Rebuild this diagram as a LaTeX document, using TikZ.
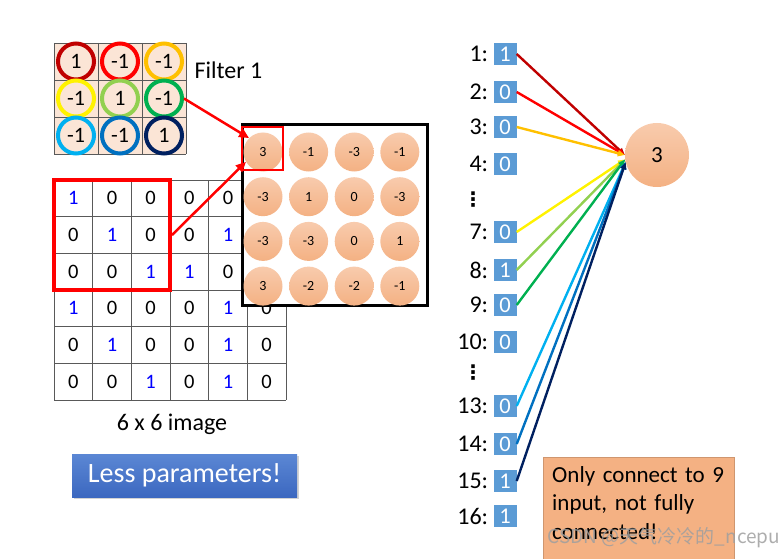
\documentclass[tikz,border=0pt]{standalone}
\usepackage{fontspec}
\setmainfont{Carlito}
\newfontfamily\cjk{Noto Sans CJK SC}
\newfontfamily\sym{DejaVu Sans}
\usetikzlibrary{arrows.meta,positioning,shadows}
\definecolor{peach}{HTML}{FBE5D6}
\definecolor{salmon}{HTML}{F4B183}
\definecolor{salmonlt}{HTML}{F8CBAD}
\definecolor{boxblue}{HTML}{5B9BD5}
\definecolor{darkred}{HTML}{C00000}
\definecolor{amber}{HTML}{FFC000}
\definecolor{lgreen}{HTML}{92D050}
\definecolor{mgreen}{HTML}{00B050}
\definecolor{lblue}{HTML}{00B0F0}
\definecolor{mblue}{HTML}{0070C0}
\definecolor{navy}{HTML}{002060}
\definecolor{pbluelt}{HTML}{5B87D4}
\definecolor{pbluedk}{HTML}{3C68C0}
\begin{document}
\begin{tikzpicture}[x=1pt,y=-1pt,
  ring/.style={circle, draw=#1, line width=4pt, fill=peach, minimum size=36pt, inner sep=0pt, font=\fontsize{22}{22}\selectfont},
  pix/.style={inner sep=0pt, font=\fontsize{20.5}{20.5}\selectfont},
  gridln/.style={gray!70!black, line width=0.9pt},
  fmap/.style={circle, top color=salmonlt, bottom color=salmon, minimum size=39pt, inner sep=0pt, font=\fontsize{14}{14}\selectfont},
  inbox/.style={fill=boxblue, text=white, minimum width=23pt, minimum height=22pt, inner sep=0pt, font=\fontsize{22.5}{22.5}\selectfont},
  lab/.style={left=5pt of #1, inner sep=0pt, font=\fontsize{24}{24}\selectfont},
  wire/.style={#1, line width=2.4pt, -{Triangle[length=7pt,width=6pt]}},
  hot/.style={red, line width=2.5pt, -{Triangle[length=10pt,width=9pt]}},
  vdot/.style={inner sep=0pt, font=\sym\bfseries\fontsize{20}{20}\selectfont}]
	\useasboundingbox (0,0) rectangle (779,559);
	\clip (0,0) rectangle (779,559);
	
	\fill[peach] (54,43) rectangle (186,154);
	\foreach \x in {54,98,142,186} \draw[gridln] (\x,43) -- (\x,154);
	\foreach \y in {43,80,117,154} \draw[gridln] (54,\y) -- (186,\y);
	\foreach \v/\col [count=\k from 0] in {1/darkred,-1/red,-1/amber,-1/yellow,1/lgreen,-1/mgreen,-1/lblue,-1/mblue,1/navy}
	{
		\pgfmathtruncatemacro\r{\k/3}
		\pgfmathtruncatemacro\cc{mod(\k,3)}
		\node[ring=\col] (f\k) at ({76+44*\cc},{61.5+37*\r}) {\v};
	}
	\node[anchor=west, font=\fontsize{24}{24}\selectfont] (ftitle) at (191,70) {Filter 1};
	
	\foreach \i in {0,...,6}
	{
		\draw[gridln] ({54+38.67*\i},180) -- ({54+38.67*\i},400);
		\draw[gridln] (54,{180+36.67*\i}) -- (286,{180+36.67*\i});
	}
	\foreach \row [count=\r from 0] in {{1,0,0,0,0,1},{0,1,0,0,1,0},{0,0,1,1,0,0},{1,0,0,0,1,0},{0,1,0,0,1,0},{0,0,1,0,1,0}}
		\foreach \v [count=\cc from 0] in \row
		{
			\pgfmathtruncatemacro\hid{(\r<3)&&(\cc==5)}
			\ifnum\hid=0
				\node[pix] (p\r\cc) at ({73.3+38.67*\cc},{198.3+36.67*\r}) {\ifnum\v=1\color{blue}\fi\v};
			\fi
		}
	\node[draw=red, line width=4pt, minimum width=116pt, minimum height=110pt, inner sep=0pt] (win) at (112,235) {};
	\node[font=\fontsize{24}{24}\selectfont] (cap) at (172,424) {6 x 6 image};
	
	\node[draw, line width=3pt, fill=white, minimum width=185pt, minimum height=180pt, inner sep=0pt, drop shadow={opacity=0.35, shadow xshift=2pt, shadow yshift=-2pt}] (fm) at (334.5,215) {};
	\foreach \v [count=\k from 0] in {3,-1,-3,-1,-3,1,0,-3,-3,-3,0,1,3,-2,-2,-1}
	{
		\pgfmathtruncatemacro\r{\k/4}
		\pgfmathtruncatemacro\cc{mod(\k,4)}
		\node[fmap] (o\k) at ({263+45.6*\cc},{152+44.7*\r}) {\v};
	}
	\node[draw=red, line width=2.5pt, minimum width=41pt, minimum height=43pt, inner sep=0pt] (sel) at (262.5,148.5) {};
	\draw[hot] (f5.east) -- (o0.135);
	\draw[hot] (win.east) -- (o0.210);
	
	\node[top color=pbluelt, bottom color=pbluedk, text=white, minimum width=225pt, minimum height=43pt, font=\fontsize{28}{28}\selectfont, drop shadow={opacity=0.35, shadow xshift=2pt, shadow yshift=-2pt}] (less) at (184.5,475.5) {Less parameters!};
	
	\node[inbox] (b1) at (505,54) {1};
	\node[inbox] (b2) at (505,92) {0};
	\node[inbox] (b3) at (505,127) {0};
	\node[inbox] (b4) at (505,164) {0};
	\node[inbox] (b7) at (505,232) {0};
	\node[inbox] (b8) at (505,270) {1};
	\node[inbox] (b9) at (505,305) {0};
	\node[inbox] (b10) at (505,342) {0};
	\node[inbox] (b13) at (505,406) {0};
	\node[inbox] (b14) at (505,444) {0};
	\node[inbox] (b15) at (505,481) {1};
	\node[inbox] (b16) at (505,516) {1};
	
	\node[lab=b1] (l1) {1:};
	\node[lab=b2] (l2) {2:};
	\node[lab=b3] (l3) {3:};
	\node[lab=b4] (l4) {4:};
	\node[lab=b7] (l7) {7:};
	\node[lab=b8] (l8) {8:};
	\node[lab=b9] (l9) {9:};
	\node[lab=b10] (l10) {10:};
	\node[lab=b13] (l13) {13:};
	\node[lab=b14] (l14) {14:};
	\node[lab=b15] (l15) {15:};
	\node[lab=b16] (l16) {16:};
	\node[vdot] (dots1) at (473,200) {⋮};
	\node[vdot] (dots2) at (473,373) {⋮};
	
	\node[circle, top color=salmonlt, bottom color=salmon, minimum size=64pt, inner sep=0pt, font=\fontsize{23}{23}\selectfont] (sum) at (657,155) {3};
	
	\draw[wire=darkred] (b1.east) -- (sum.180);
	\draw[wire=red] (b2.east) -- (sum.180);
	\draw[wire=amber] (b3.east) -- (sum.180);
	\draw[wire=yellow] (b7.east) -- (sum.188);
	\draw[wire=lgreen] (b8.east) -- (sum.188);
	\draw[wire=mgreen] (b9.east) -- (sum.188);
	\draw[wire=lblue] (b13.east) -- (sum.193);
	\draw[wire=mblue] (b14.east) -- (sum.193);
	\draw[wire=navy] (b15.east) -- (sum.193);
	
	\fill[salmon] (543,457) rectangle (734,600);
	\draw[salmon!85!black, line width=0.6pt] (543,600) -- (543,457) -- (734,457) -- (734,600);
	\node[anchor=north west, text width=175pt, align=left, inner sep=0pt, font=\fontsize{23}{28.5}\selectfont] (note) at (552,466) {Only connect to 9\\input, not fully\\connected!};
	
	\node[text=gray!75, opacity=0.85, font=\cjk\fontsize{19}{19}\selectfont] (wm) at (664,538) {CSDN @天气冷冷的\_ncepu};
\end{tikzpicture}
\end{document}
